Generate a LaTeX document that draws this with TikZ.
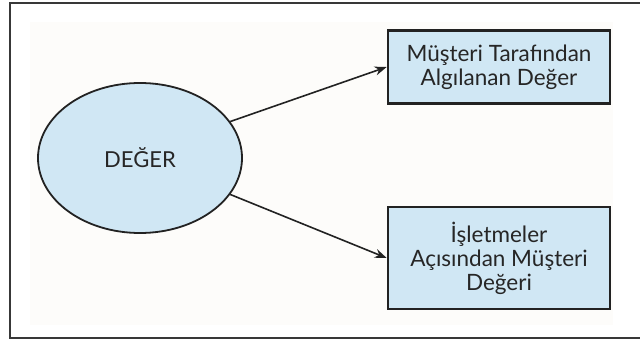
\documentclass[tikz,border=0pt]{standalone}
\usepackage{fontspec}
\setmainfont{Lato}
\usetikzlibrary{shapes.geometric,arrows.meta}
\definecolor{boxblue}{HTML}{D0E7F4}
\definecolor{edge}{HTML}{222222}
\definecolor{paper}{HTML}{FDFCFA}
\tikzset{
  px/.style={x=1pt,y=-1pt},
  concept/.style={ellipse,draw=edge,line width=1.8pt,fill=boxblue,
    minimum width=204pt,minimum height=150pt,inner sep=0pt,
    font=\fontsize{22}{24}\selectfont,text=black!85},
  outcome/.style={rectangle,draw=edge,line width=2.6pt,fill=boxblue,
    minimum width=222pt,inner sep=0pt,align=center,
    font=\fontsize{22.5}{24}\selectfont,text=black!85},
  link/.style={draw=edge,line width=1.6pt,-{Stealth[length=12pt,width=9pt]}},
}
\begin{document}
\begin{tikzpicture}[px]
  \useasboundingbox (0,0) rectangle (640,342);
  \fill[white] (0,0) rectangle (640,342);
  % outer frame, open towards the right
  \draw[edge!90,line width=2pt] (645,3) -- (10,3) -- (10,338) -- (645,338);
  % pale paper panel
  \fill[paper] (30,22) rectangle (613,325);
  \node[concept] (value) at (140,158) {DEĞER};
  \node[outcome,minimum height=73pt] (customer) at (499,67)
    {Müşteri Tarafından\\Algılanan Değer};
  \node[outcome,minimum height=102pt] (business) at (499,258)
    {İşletmeler\\Açısından Müşteri\\Değeri};
  \draw[link] (value.22) -- (customer.west);
  \draw[link] (value.-22) -- (business.west);
\end{tikzpicture}
\end{document}
